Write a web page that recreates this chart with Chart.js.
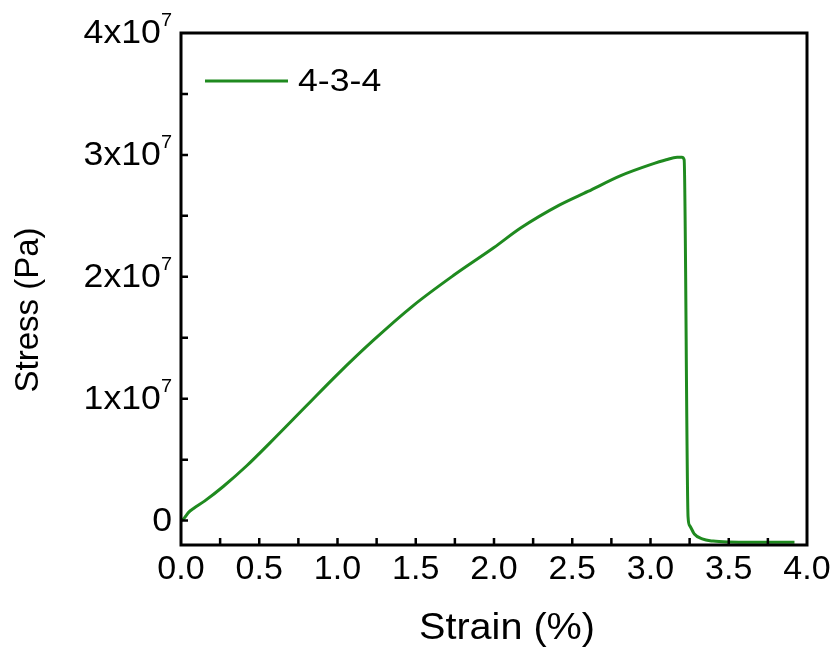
<!DOCTYPE html>
<html>
<head>
<meta charset="utf-8">
<script src="https://cdn.jsdelivr.net/npm/chart.js@4.4.0/dist/chart.umd.min.js"></script>
<style>
  body { margin: 0; background: #fff; }
  canvas { display: block; }
</style>
</head>
<body>
<canvas id="stressChart" width="839" height="653"></canvas>
<script>
// Data (strain in %, stress in Pa)
const strain = [0, 0.02, 0.05, 0.08, 0.15, 0.27, 0.42, 0.57, 0.80, 1.00, 1.23, 1.48, 1.74, 2.00,
                2.17, 2.42, 2.60, 2.81, 3.00, 3.10, 3.17, 3.20, 3.215, 3.24, 3.25, 3.28, 3.33,
                3.40, 3.50, 3.70, 3.92];
const stress = [0, 0.2e6, 0.7e6, 1.0e6, 1.6e6, 2.8e6, 4.5e6, 6.4e6, 0.94e7, 1.2e7, 1.48e7, 1.76e7,
                2.01e7, 2.24e7, 2.40e7, 2.59e7, 2.70e7, 2.83e7, 2.92e7, 2.96e7, 2.98e7, 2.98e7,
                2.96e7, 0.3e6, -0.4e6, -1.1e6, -1.5e6, -1.68e6, -1.75e6, -1.77e6, -1.78e6];
const seriesLabel = '4-3-4';

const xTickValues = [0, 0.5, 1.0, 1.5, 2.0, 2.5, 3.0, 3.5, 4.0];
const xTickMarks = [0.25, 0.5, 0.75, 1.0, 1.25, 1.5, 1.75, 2.0, 2.25, 2.5, 2.75, 3.0, 3.25, 3.5, 3.75];
const yTickValues = [0, 1e7, 2e7, 3e7, 4e7];
const yTickBase = ['0', '1x10', '2x10', '3x10', '4x10'];
const yTickExp = ['', '7', '7', '7', '7'];
const yTickMarks = [0, 5e6, 1e7, 1.5e7, 2e7, 2.5e7, 3e7, 3.5e7];

const green = '#1f8a1f';
const fontFamily = '"Liberation Sans", Arial, sans-serif';

// text drawn a bit wider, like the original figure
function drawText(ctx, text, x, y, size, align, sx) {
    ctx.save();
    ctx.translate(x, y);
    ctx.scale(sx, 1);
    ctx.font = size + 'px ' + fontFamily;
    ctx.textAlign = align;
    ctx.fillText(text, 0, 0);
    ctx.restore();
}

// Box, inward ticks, y labels with superscripts, legend and axis titles
const framePlugin = {
    id: 'frame',
    afterDraw(chart) {
        const { ctx, chartArea: a, scales: { x, y } } = chart;
        ctx.save();
        ctx.strokeStyle = '#000';
        ctx.lineWidth = 3;
        ctx.strokeRect(a.left, a.top, a.right - a.left, a.bottom - a.top);

        ctx.lineWidth = 2.5;
        ctx.beginPath();
        xTickMarks.forEach(v => {
            const px = x.getPixelForValue(v);
            ctx.moveTo(px, a.bottom);
            ctx.lineTo(px, a.bottom - 7);
        });
        yTickMarks.forEach(v => {
            const py = y.getPixelForValue(v);
            ctx.moveTo(a.left, py);
            ctx.lineTo(a.left + 7, py);
        });
        ctx.stroke();

        // y tick labels
        ctx.fillStyle = '#000';
        ctx.textBaseline = 'middle';
        const right = a.left - 9;
        yTickValues.forEach((v, i) => {
            const py = y.getPixelForValue(v);
            let ew = 0;
            if (yTickExp[i]) {
                ctx.font = '19px ' + fontFamily;
                ew = ctx.measureText(yTickExp[i]).width * 1.05;
                drawText(ctx, yTickExp[i], right, py - 12, 19, 'right', 1.05);
            }
            drawText(ctx, yTickBase[i], right - ew, py + 1, 33, 'right', 1.08);
        });

        // legend
        ctx.strokeStyle = green;
        ctx.lineWidth = 3;
        ctx.beginPath();
        ctx.moveTo(205, 81);
        ctx.lineTo(288, 81);
        ctx.stroke();
        drawText(ctx, seriesLabel, 298, 82, 31, 'left', 1.15);

        // axis titles
        drawText(ctx, 'Strain (%)', 507, 629, 36, 'center', 1.1);
        ctx.translate(29, 310);
        ctx.rotate(-Math.PI / 2);
        ctx.font = '33px ' + fontFamily;
        ctx.textAlign = 'center';
        ctx.fillText('Stress (Pa)', 0, 0);
        ctx.restore();
    }
};

const ctx = document.getElementById('stressChart').getContext('2d');
new Chart(ctx, {
    type: 'line',
    data: {
        datasets: [{
            label: seriesLabel,
            data: strain.map((s, i) => ({ x: s, y: stress[i] })),
            borderColor: green,
            backgroundColor: green,
            borderWidth: 3,
            pointRadius: 0,
            cubicInterpolationMode: 'monotone',
            fill: false
        }]
    },
    options: {
        responsive: false,
        animation: false,
        layout: { padding: { top: 33, right: 32, left: 0, bottom: 0 } },
        scales: {
            x: {
                type: 'linear',
                min: 0,
                max: 4,
                afterBuildTicks: scale => { scale.ticks = xTickValues.map(v => ({ value: v })); },
                afterFit: scale => { scale.height = 108; },
                ticks: {
                    callback: v => v.toFixed(1),
                    color: '#000',
                    padding: 4,
                    maxRotation: 0,
                    autoSkip: false,
                    font: { family: fontFamily, size: 34 }
                },
                grid: { display: false, drawTicks: false },
                border: { display: false }
            },
            y: {
                type: 'linear',
                min: -2e6,
                max: 4e7,
                afterFit: scale => { scale.width = 181; },
                ticks: { display: false },
                grid: { display: false, drawTicks: false },
                border: { display: false }
            }
        },
        plugins: {
            legend: { display: false },
            tooltip: { enabled: false }
        }
    },
    plugins: [framePlugin]
});
</script>
</body>
</html>
